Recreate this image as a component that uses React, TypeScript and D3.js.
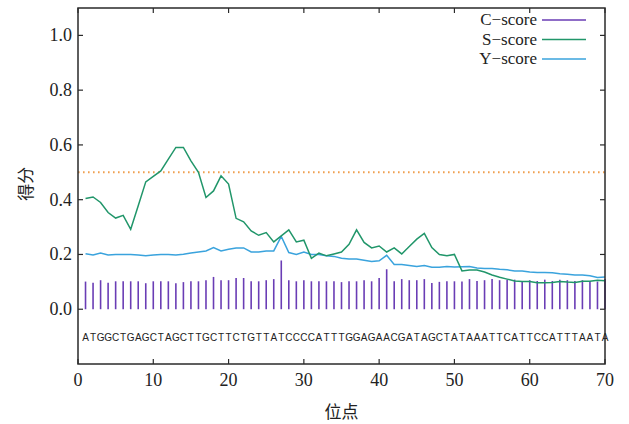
import React from 'react';
import * as d3 from 'd3';

// sequence positions 1..70
const sequence = 'ATGGCTGAGCTAGCTTGCTTCTGTTATCCCCATTTGGAGAACGATAGCTATAAATTCATTCCATTTAATA'.split('');

const cScore = [
  0.101, 0.097, 0.106, 0.097, 0.102, 0.102, 0.102, 0.102, 0.095, 0.102,
  0.102, 0.102, 0.095, 0.099, 0.102, 0.102, 0.106, 0.118, 0.106, 0.106,
  0.114, 0.114, 0.102, 0.102, 0.106, 0.11, 0.178, 0.106, 0.102, 0.106,
  0.102, 0.102, 0.102, 0.102, 0.099, 0.102, 0.102, 0.106, 0.102, 0.114,
  0.146, 0.102, 0.11, 0.106, 0.106, 0.11, 0.096, 0.1, 0.102, 0.102,
  0.101, 0.11, 0.103, 0.106, 0.11, 0.106, 0.108, 0.108, 0.103, 0.106,
  0.103, 0.108, 0.103, 0.108, 0.106, 0.103, 0.106, 0.103, 0.101, 0.11,
];

const sScore = [
  0.404, 0.41, 0.39, 0.353, 0.333, 0.343, 0.292, 0.378, 0.465, 0.485,
  0.505, 0.548, 0.591, 0.591, 0.542, 0.5, 0.408, 0.432, 0.487, 0.457,
  0.332, 0.319, 0.286, 0.27, 0.28, 0.246, 0.268, 0.29, 0.246, 0.252,
  0.186, 0.205, 0.195, 0.202, 0.209, 0.237, 0.29, 0.244, 0.224, 0.231,
  0.209, 0.224, 0.202, 0.229, 0.256, 0.277, 0.225, 0.2, 0.195, 0.2,
  0.14, 0.143, 0.143, 0.136, 0.125, 0.117, 0.11, 0.103, 0.101, 0.101,
  0.097, 0.097, 0.098, 0.101, 0.099, 0.098, 0.102, 0.102, 0.106, 0.104,
];

const yScore = [
  0.203, 0.198, 0.205, 0.198, 0.2, 0.2, 0.2, 0.198, 0.195, 0.198,
  0.2, 0.2, 0.198, 0.201, 0.205, 0.209, 0.213, 0.225, 0.213, 0.219,
  0.224, 0.224, 0.209, 0.209, 0.213, 0.213, 0.266, 0.207, 0.2, 0.209,
  0.2, 0.2, 0.195, 0.193, 0.186, 0.183, 0.183, 0.179, 0.174, 0.177,
  0.197, 0.163, 0.163, 0.16, 0.156, 0.16, 0.153, 0.153, 0.156, 0.154,
  0.155, 0.156, 0.151, 0.149, 0.149, 0.146, 0.144, 0.14, 0.14, 0.136,
  0.134, 0.134, 0.133, 0.13, 0.128, 0.125, 0.125, 0.122, 0.116, 0.118,
];

const threshold = 0.5;
const xTicks = [0, 10, 20, 30, 40, 50, 60, 70];
const yTicks = [0, 0.2, 0.4, 0.6, 0.8, 1.0];
const seriesNames = ['C\u2212score', 'S\u2212score', 'Y\u2212score'];

const colors = { c: '#6a3db5', s: '#21966a', y: '#3aa3dd', cut: '#f0a050', axis: '#2a2a2a' };

const App = () => {
  const width = 629;
  const height = 424;
  const margin = { top: 8, right: 24, bottom: 60, left: 78 };

  const x = d3.scaleLinear().domain([0, 70]).range([margin.left, width - margin.right]);
  const y = d3.scaleLinear().domain([-0.2, 1.1]).range([height - margin.bottom, margin.top]);

  const pos = d3.range(1, 71);
  const line = d3.line<number>().x((_, i) => x(pos[i])).y(d => y(d));

  const x0 = x.range()[0], x1 = x.range()[1];
  const y0 = y.range()[0], y1 = y.range()[1];
  const tickLen = 5;
  const serif = '"Liberation Serif", "DejaVu Serif", serif';

  const legendColors = [colors.c, colors.s, colors.y];

  return (
    <svg width={width} height={height} style={{ position: 'fixed', left: 0, top: 0, background: '#fff' }}>
      {/* threshold */}
      <line x1={x0} x2={x1} y1={y(threshold)} y2={y(threshold)}
        stroke={colors.cut} strokeWidth={2} strokeDasharray="1.6 3.4" />

      {/* C-score bars */}
      {cScore.map((v, i) => (
        <line key={'c' + i} x1={x(pos[i])} x2={x(pos[i])} y1={y(0)} y2={y(v)}
          stroke={colors.c} strokeWidth={1.6} />
      ))}

      <path d={line(yScore) || ''} fill="none" stroke={colors.y} strokeWidth={1.5} />
      <path d={line(sScore) || ''} fill="none" stroke={colors.s} strokeWidth={1.5} />

      {/* sequence */}
      {sequence.map((ch, i) => (
        <text key={'s' + i} x={x(pos[i])} y={y(-0.1) + 4} textAnchor="middle"
          fontFamily='"Liberation Sans", Arial, sans-serif' fontSize={10} fill="#222">{ch}</text>
      ))}

      {/* frame */}
      <rect x={x0} y={y1} width={x1 - x0} height={y0 - y1} fill="none" stroke={colors.axis} strokeWidth={1.5} />

      {xTicks.map(t => (
        <g key={'xt' + t}>
          <line x1={x(t)} x2={x(t)} y1={y0} y2={y0 - tickLen} stroke={colors.axis} strokeWidth={1.2} />
          <line x1={x(t)} x2={x(t)} y1={y1} y2={y1 + tickLen} stroke={colors.axis} strokeWidth={1.2} />
          <text x={x(t)} y={y0 + 22} textAnchor="middle" fontFamily={serif} fontSize={18} fill="#222">{t}</text>
        </g>
      ))}
      {yTicks.map(t => (
        <g key={'yt' + t}>
          <line x1={x0} x2={x0 + tickLen} y1={y(t)} y2={y(t)} stroke={colors.axis} strokeWidth={1.2} />
          <line x1={x1} x2={x1 - tickLen} y1={y(t)} y2={y(t)} stroke={colors.axis} strokeWidth={1.2} />
          <text x={x0 - 6} y={y(t) + 6} textAnchor="end" fontFamily={serif} fontSize={18} fill="#222">{t.toFixed(1)}</text>
        </g>
      ))}

      {/* legend */}
      {seriesNames.map((name, i) => (
        <g key={name}>
          <text x={537} y={25 + i * 19.5} textAnchor="end" fontFamily={serif} fontSize={17} fill="#222">{name}</text>
          <line x1={542} x2={586} y1={20 + i * 19.5} y2={20 + i * 19.5} stroke={legendColors[i]} strokeWidth={1.5} />
        </g>
      ))}

      {/* axis titles */}
      <text transform={`translate(32, ${y(0.4) - 16}) rotate(-90)`} textAnchor="middle"
        fontFamily='"Noto Sans CJK SC", sans-serif' fontSize={17} fill="#222">得分</text>
      <text x={(x0 + x1) / 2} y={418} textAnchor="middle"
        fontFamily='"Noto Sans CJK SC", sans-serif' fontSize={17} fill="#222">位点</text>
    </svg>
  );
};

export default App;
